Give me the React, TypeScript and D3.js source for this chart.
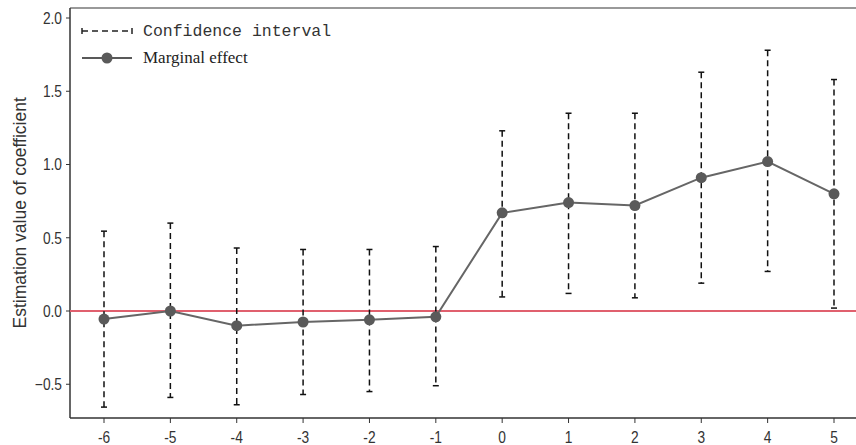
import React from "react";
import * as d3 from "d3";

const periods = [-6, -5, -4, -3, -2, -1, 0, 1, 2, 3, 4, 5];
const estimates = [-0.055, 0.0, -0.1, -0.075, -0.06, -0.04, 0.67, 0.74, 0.72, 0.91, 1.02, 0.8];
const upperCI = [0.545, 0.6, 0.43, 0.42, 0.42, 0.44, 1.23, 1.35, 1.35, 1.63, 1.78, 1.58];
const lowerCI = [-0.656, -0.59, -0.64, -0.57, -0.55, -0.51, 0.096, 0.12, 0.09, 0.19, 0.27, 0.02];
const yTicks = [-0.5, 0.0, 0.5, 1.0, 1.5, 2.0];

const W = 856;
const H = 445;
const left = 70;
const bottom = 418;
const top = 8;
const sx = 0.86;

export default function App() {
  const x = d3.scaleLinear().domain([-6, 5]).range([104, 834]);
  const y = d3.scaleLinear().domain([0, 2]).range([311, 18]);
  const line = d3
    .line<number>()
    .x((_, i) => x(periods[i]))
    .y((d) => y(d));

  return (
    <svg
      width={W}
      height={H}
      style={{ position: "absolute", left: 0, top: 0, background: "#fff" }}
      fontFamily="'Liberation Sans', Arial, sans-serif"
    >
      {/* frame */}
      <line x1={left} y1={top} x2={W} y2={top} stroke="#777" strokeWidth={1.5} />
      <line x1={left} y1={top} x2={left} y2={bottom} stroke="#333" strokeWidth={1.5} />
      <line x1={left} y1={bottom} x2={W} y2={bottom} stroke="#333" strokeWidth={1.5} />

      {/* y ticks */}
      {yTicks.map((t) => (
        <g key={t}>
          <line x1={left - 4} x2={left} y1={y(t)} y2={y(t)} stroke="#333" />
          <text
            transform={`translate(${left - 8},${y(t)}) scale(${sx},1)`}
            dy="0.36em"
            textAnchor="end"
            fontSize={16}
            fill="#333"
          >
            {d3.format(".1f")(t)}
          </text>
        </g>
      ))}

      {/* x ticks */}
      {periods.map((p) => (
        <g key={p}>
          <line x1={x(p)} x2={x(p)} y1={bottom} y2={bottom + 5} stroke="#333" />
          <text
            transform={`translate(${x(p)},443) scale(${sx},1)`}
            textAnchor="middle"
            fontSize={16}
            fill="#333"
          >
            {p}
          </text>
        </g>
      ))}

      {/* y title */}
      <text
        transform={`translate(26,${y(0.67)}) rotate(-90)`}
        textAnchor="middle"
        fontSize={17.5}
        fill="#333"
      >
        Estimation value of coefficient
      </text>

      {/* zero line */}
      <line x1={left} x2={W} y1={y(0)} y2={y(0)} stroke="#e0606e" strokeWidth={2} />

      {/* confidence intervals */}
      {periods.map((p, i) => (
        <g key={"ci" + p} stroke="#111" strokeWidth={1.5}>
          <line
            x1={x(p)}
            x2={x(p)}
            y1={y(upperCI[i])}
            y2={y(lowerCI[i])}
            strokeDasharray="6,4"
          />
          <line x1={x(p) - 3} x2={x(p) + 3} y1={y(upperCI[i])} y2={y(upperCI[i])} />
          <line x1={x(p) - 3} x2={x(p) + 3} y1={y(lowerCI[i])} y2={y(lowerCI[i])} />
        </g>
      ))}

      {/* marginal effect line */}
      <path d={line(estimates) || ""} fill="none" stroke="#666" strokeWidth={2} />
      {estimates.map((e, i) => (
        <circle key={"pt" + i} cx={x(periods[i])} cy={y(e)} r={5.5} fill="#5a5a5a" />
      ))}

      {/* legend */}
      <g stroke="#222" strokeWidth={1.5}>
        <line x1={82} x2={132} y1={31} y2={31} strokeDasharray="6,4" />
        <line x1={82} x2={82} y1={28} y2={34} />
        <line x1={132} x2={132} y1={28} y2={34} />
      </g>
      <text
        x={143}
        y={36}
        fontSize={16.5}
        fontFamily="'Liberation Mono', 'Courier New', monospace"
        fill="#333"
      >
        Confidence interval
      </text>
      <line x1={82} x2={132} y1={58} y2={58} stroke="#222" strokeWidth={1.5} />
      <circle cx={107} cy={58} r={5.5} fill="#5a5a5a" />
      <text
        x={143}
        y={63}
        fontSize={17}
        fontFamily="'Liberation Serif', 'Times New Roman', serif"
        fill="#222"
      >
        Marginal effect
      </text>
    </svg>
  );
}
